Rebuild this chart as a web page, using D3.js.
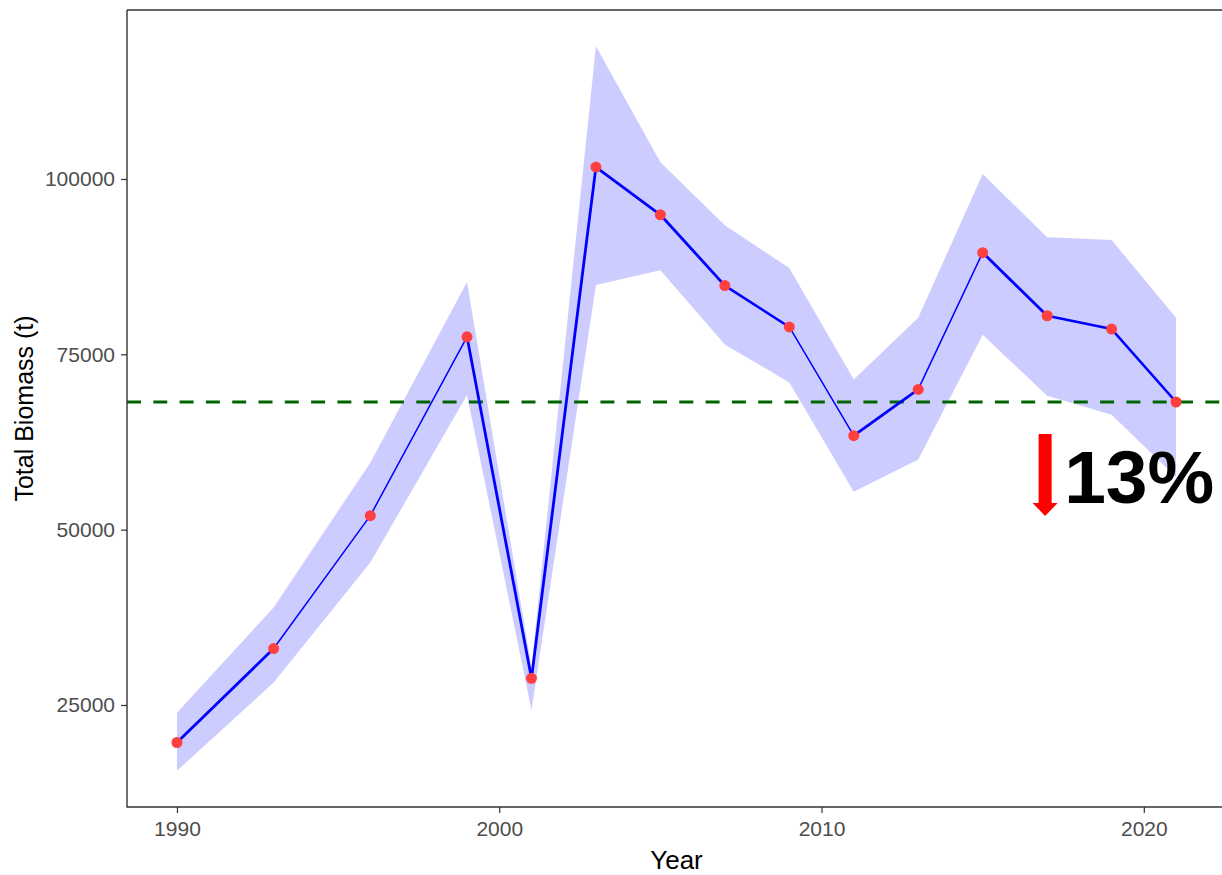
<!DOCTYPE html>
<html>
<head>
<meta charset="utf-8">
<script src="https://cdn.jsdelivr.net/npm/d3@7"></script>
<style>
  html, body { margin: 0; padding: 0; background: #fff; }
  svg { display: block; font-family: "Liberation Sans", Arial, sans-serif; }
</style>
</head>
<body>
<svg id="chart" width="1222" height="875"></svg>
<script>
// Survey years and estimated total biomass (t)
const years   = [1990, 1993, 1996, 1999, 2001, 2003, 2005, 2007, 2009, 2011, 2013, 2015, 2017, 2019, 2021];
const biomass = [19650, 33050, 52000, 77500, 28800, 101700, 94900, 84800, 78900, 63400, 70000, 89500, 80500, 78600, 68200];
// Confidence band
const lower   = [15620, 28200, 45300, 69200, 24300, 84900, 87000, 76400, 71000, 55400, 60000, 77800, 69100, 66400, 57500];
const upper   = [23900, 38900, 59550, 85300, 30400, 118930, 102400, 93400, 87300, 71400, 80200, 100700, 91700, 91300, 80200];
// Reference level (latest estimate) and change annotation
const refLevel = 68200;
const changeLabel = "13%";
const xTicks = [1990, 2000, 2010, 2020];
const yTicks = [25000, 50000, 75000, 100000];

// Stroke widths for the connecting segments
const segWidth = [2.8, 1.5, 1.5, 2.8, 2.8, 2.8, 2.8, 2.6, 1.5, 2.8, 1.5, 2.8, 2.6, 2.6];

const svg = d3.select("#chart");
const panel = { left: 127, right: 1226, top: 10, bottom: 807 };

const data = years.map((y, i) => ({ year: y, value: biomass[i], lo: lower[i], hi: upper[i] }));

// 5% padding on both scales
const xMin = d3.min(years), xMax = d3.max(years);
const xPad = (xMax - xMin) * 0.05;
const yMin = d3.min(lower), yMax = d3.max(upper);
const yPad = (yMax - yMin) * 0.05;

const x = d3.scaleLinear().domain([xMin - xPad, xMax + xPad]).range([panel.left, panel.right]);
const y = d3.scaleLinear().domain([yMin - yPad, yMax + yPad]).range([panel.bottom, panel.top]);

const plot = svg.append("g");

// Confidence ribbon
plot.append("path")
  .datum(data)
  .attr("fill", "#ccccff")
  .attr("d", d3.area().x(d => x(d.year)).y0(d => y(d.lo)).y1(d => y(d.hi)));

// Reference line
plot.append("line")
  .attr("x1", panel.left).attr("x2", 1222)
  .attr("y1", y(refLevel)).attr("y2", y(refLevel))
  .attr("stroke", "#006400").attr("stroke-width", 3)
  .attr("stroke-dasharray", "14 12.3");

// Biomass line, one segment at a time
const segs = d3.pairs(data);
plot.selectAll("line.seg").data(segs).join("line")
  .attr("class", "seg")
  .attr("x1", d => x(d[0].year)).attr("y1", d => y(d[0].value))
  .attr("x2", d => x(d[1].year)).attr("y2", d => y(d[1].value))
  .attr("stroke", "#0000ff")
  .attr("stroke-linecap", "round")
  .attr("stroke-width", (d, i) => segWidth[i]);

// Points
plot.selectAll("circle").data(data).join("circle")
  .attr("cx", d => x(d.year)).attr("cy", d => y(d.value))
  .attr("r", 5.5).attr("fill", "#ff4040");

// Axes
const axisColor = "#333333";
const xAxis = svg.append("g").attr("transform", `translate(0,${panel.bottom})`)
  .call(d3.axisBottom(x).tickValues(xTicks).tickFormat(d3.format("d")).tickSize(6).tickPadding(5));
const yAxis = svg.append("g").attr("transform", `translate(${panel.left},0)`)
  .call(d3.axisLeft(y).tickValues(yTicks).tickFormat(d3.format("d")).tickSize(6).tickPadding(6));

[xAxis, yAxis].forEach(g => {
  g.select(".domain").remove();
  g.selectAll(".tick line").attr("stroke", axisColor).attr("stroke-width", 1.2);
  g.selectAll(".tick text").attr("fill", "#4d4d4d").style("font-size", "21px")
    .style("font-family", "'Liberation Sans', Arial, sans-serif");
});
xAxis.selectAll(".tick text").attr("dy", "0.85em");

// Axis lines and top border
svg.append("line").attr("x1", panel.left).attr("x2", panel.left)
  .attr("y1", panel.top).attr("y2", panel.bottom + 0.6)
  .attr("stroke", axisColor).attr("stroke-width", 1.4);
svg.append("line").attr("x1", panel.left).attr("x2", 1222)
  .attr("y1", panel.bottom).attr("y2", panel.bottom)
  .attr("stroke", axisColor).attr("stroke-width", 1.4);
svg.append("line").attr("x1", panel.left).attr("x2", 1222)
  .attr("y1", panel.top).attr("y2", panel.top)
  .attr("stroke", axisColor).attr("stroke-width", 1.4);

// Axis titles
svg.append("text")
  .attr("x", (panel.left + panel.right) / 2).attr("y", 869)
  .attr("text-anchor", "middle").attr("fill", "#000")
  .style("font-size", "26px").text("Year");
svg.append("text")
  .attr("transform", `translate(33,${(panel.top + panel.bottom) / 2}) rotate(-90)`)
  .attr("text-anchor", "middle").attr("fill", "#000")
  .style("font-size", "25px").text("Total Biomass (t)");

// Decline annotation: red arrow and percentage
const ax = x(2017) - 2;
const aTop = y(refLevel) + 32;
const aHeadY = aTop + 69;
const ann = svg.append("g");
ann.append("rect")
  .attr("x", ax - 6.5).attr("y", aTop).attr("width", 13).attr("height", aHeadY - aTop + 1)
  .attr("fill", "#ff0000");
ann.append("path")
  .attr("d", `M${ax - 12.5},${aHeadY} L${ax + 12.5},${aHeadY} L${ax},${aHeadY + 13} Z`)
  .attr("fill", "#ff0000");
ann.append("text")
  .attr("x", ax + 19).attr("y", aHeadY)
  .attr("fill", "#000").style("font-weight", "bold").style("font-size", "75px")
  .text(changeLabel);
</script>
</body>
</html>
